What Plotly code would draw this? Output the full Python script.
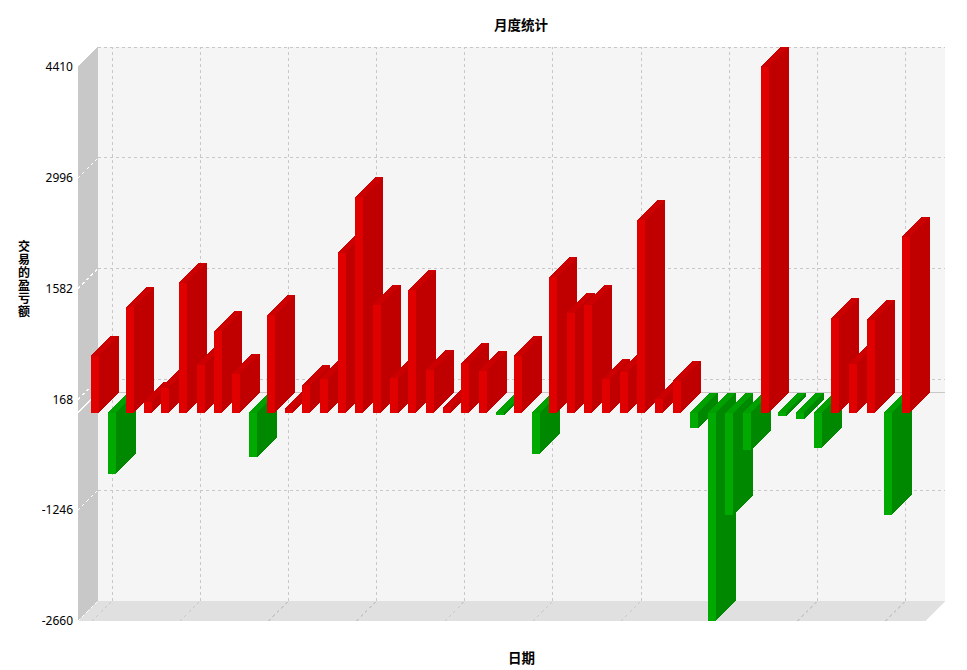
import plotly.graph_objects as go

TITLE = "月度统计"
X_TITLE = "日期"
Y_TITLE = "交易的盈亏额"
Y_TICKS = [4410, 2996, 1582, 168, -1246, -2660]
X_GRID = [-0.15, 4.85, 9.85, 14.85, 19.85, 24.85, 29.85, 34.85, 39.85, 44.85]
PROFIT = [721, -778, 1346, 138, 319, 1653, 606, 1040, 491, -562,
          1244, 45, 351, 428, 2035, 2750, 1372, 440, 1563, 542,
          70, 632, 530, -32, 721, -530, 1729, 1276, 1372, 428,
          523, 2457, 172, 402, -198, -2660, -1302, -479, 4410, -45,
          -83, -447, 1206, 625, 1180, -1302, 2240]

# front-plane scale of the pseudo-3D box, and the depth offset in data units
X_MIN, X_MAX = -0.95, 48.224
Y_MIN, Y_MAX = -2660, 4665.2
DEPTH_X, DEPTH_Y = 1.134, 255.2
X_FRONT_MAX = X_MAX - DEPTH_X
Y_FRONT_MAX = Y_MAX - DEPTH_Y
BAR_W = 0.454

RED = ("#E00000", "#C00000", "#CC0000")
GREEN = ("#00AA00", "#008800", "#00A000")


def poly(xs, ys, color):
    return go.Scatter(x=xs + xs[:1], y=ys + ys[:1], mode="lines", fill="toself",
                      fillcolor=color, line=dict(width=0), hoverinfo="skip",
                      showlegend=False)


fig = go.Figure()
for i, v in enumerate(PROFIT):
    front, side, top = RED if v >= 0 else GREEN
    x0, x1 = i - BAR_W / 2, i + BAR_W / 2
    lo, hi = min(v, 0), max(v, 0)
    fig.add_trace(poly([x1, x1 + DEPTH_X, x1 + DEPTH_X, x1],
                       [lo, lo + DEPTH_Y, hi + DEPTH_Y, hi], side))
    fig.add_trace(poly([x0, x0 + DEPTH_X, x1 + DEPTH_X, x1],
                       [hi, hi + DEPTH_Y, hi + DEPTH_Y, hi], top))
    fig.add_trace(poly([x0, x1, x1, x0], [lo, lo, hi, hi], front))

shapes = [
    dict(type="rect", x0=X_MIN + DEPTH_X, x1=X_MAX, y0=Y_MIN + DEPTH_Y, y1=Y_MAX,
         fillcolor="#F5F5F5", line_width=0, layer="below"),
    dict(type="path", fillcolor="#C8C8C8", line_width=0, layer="below",
         path=f"M{X_MIN},{Y_MIN} L{X_MIN + DEPTH_X},{Y_MIN + DEPTH_Y} "
              f"L{X_MIN + DEPTH_X},{Y_MAX} L{X_MIN},{Y_FRONT_MAX} Z"),
    dict(type="path", fillcolor="#E0E0E0", line_width=0, layer="below",
         path=f"M{X_MIN},{Y_MIN} L{X_FRONT_MAX},{Y_MIN} "
              f"L{X_MAX},{Y_MIN + DEPTH_Y} L{X_MIN + DEPTH_X},{Y_MIN + DEPTH_Y} Z"),
]
GRID = dict(color="#C8C8C8", width=1, dash="3px,3px")
WALL = dict(color="#FFFFFF", width=1, dash="3px,3px")
for t in Y_TICKS:
    if t != Y_MIN:
        shapes.append(dict(type="line", x0=X_MIN + DEPTH_X, x1=X_MAX, y0=t + DEPTH_Y,
                           y1=t + DEPTH_Y, line=GRID, layer="below"))
    if t != Y_TICKS[0]:
        shapes.append(dict(type="line", x0=X_MIN, x1=X_MIN + DEPTH_X, y0=t,
                           y1=t + DEPTH_Y, line=WALL, layer="below"))
for g in X_GRID:
    shapes.append(dict(type="line", x0=g + DEPTH_X, x1=g + DEPTH_X, y0=Y_MIN + DEPTH_Y,
                       y1=Y_MAX, line=GRID, layer="below"))
    shapes.append(dict(type="line", x0=g, x1=g + DEPTH_X, y0=Y_MIN, y1=Y_MIN + DEPTH_Y,
                       line=GRID, layer="below"))
shapes.append(dict(type="line", x0=X_MIN + DEPTH_X, x1=X_MAX, y0=DEPTH_Y, y1=DEPTH_Y,
                   line=dict(color="#C8C8C8", width=1), layer="below"))
shapes.append(dict(type="line", x0=X_MIN, x1=X_MIN + DEPTH_X, y0=0, y1=DEPTH_Y,
                   line=dict(color="#FFFFFF", width=1), layer="below"))

CJK = "Noto Sans CJK SC"
fig.update_layout(
    width=967, height=670, autosize=False,
    margin=dict(l=78, r=22, t=47, b=49, pad=0),
    paper_bgcolor="white", plot_bgcolor="white",
    showlegend=False, shapes=shapes,
    title=dict(text=f"<b>{TITLE}</b>", x=521 / 967, y=1 - 25 / 670, xanchor="center",
               yanchor="middle", font=dict(family=CJK, size=13.5, color="black")),
    xaxis=dict(range=[X_MIN, X_MAX], showgrid=False, zeroline=False, showline=False,
               showticklabels=False, ticks=""),
    yaxis=dict(range=[Y_MIN, Y_MAX], showgrid=False, zeroline=False, showline=False,
               tickvals=Y_TICKS, ticktext=[str(t) for t in Y_TICKS], ticks="",
               ticklabelstandoff=4,
               tickfont=dict(family="Noto Sans", size=12, color="black")),
    annotations=[
        dict(text=f"<b>{X_TITLE}</b>", xref="paper", yref="paper", showarrow=False,
             x=(521 - 78) / 867, y=-(657 - 621) / 574, xanchor="center", yanchor="middle",
             font=dict(family=CJK, size=13.5, color="black")),
        dict(text="<b>" + "<br>".join(Y_TITLE) + "</b>", xref="paper", yref="paper",
             showarrow=False, x=-(78 - 24) / 867, y=(621 - 284) / 574,
             xanchor="center", yanchor="middle",
             font=dict(family=CJK, size=12, color="black")),
    ],
)
POST = """
document.body.style.margin='0';
document.body.style.overflow='hidden';
var s=document.createElement('style');
s.textContent='.scatterlayer path,.shapelayer path{shape-rendering:crispEdges}';
document.head.appendChild(s);
document.querySelectorAll('.annotation-text').forEach(function(a){
  a.querySelectorAll('tspan.line').forEach(function(t,i){
    t.setAttribute('dy',(i*1.08)+'em');
  });
});
"""
fig.write_html("out.html", post_script=POST, config=dict(displayModeBar=False))
